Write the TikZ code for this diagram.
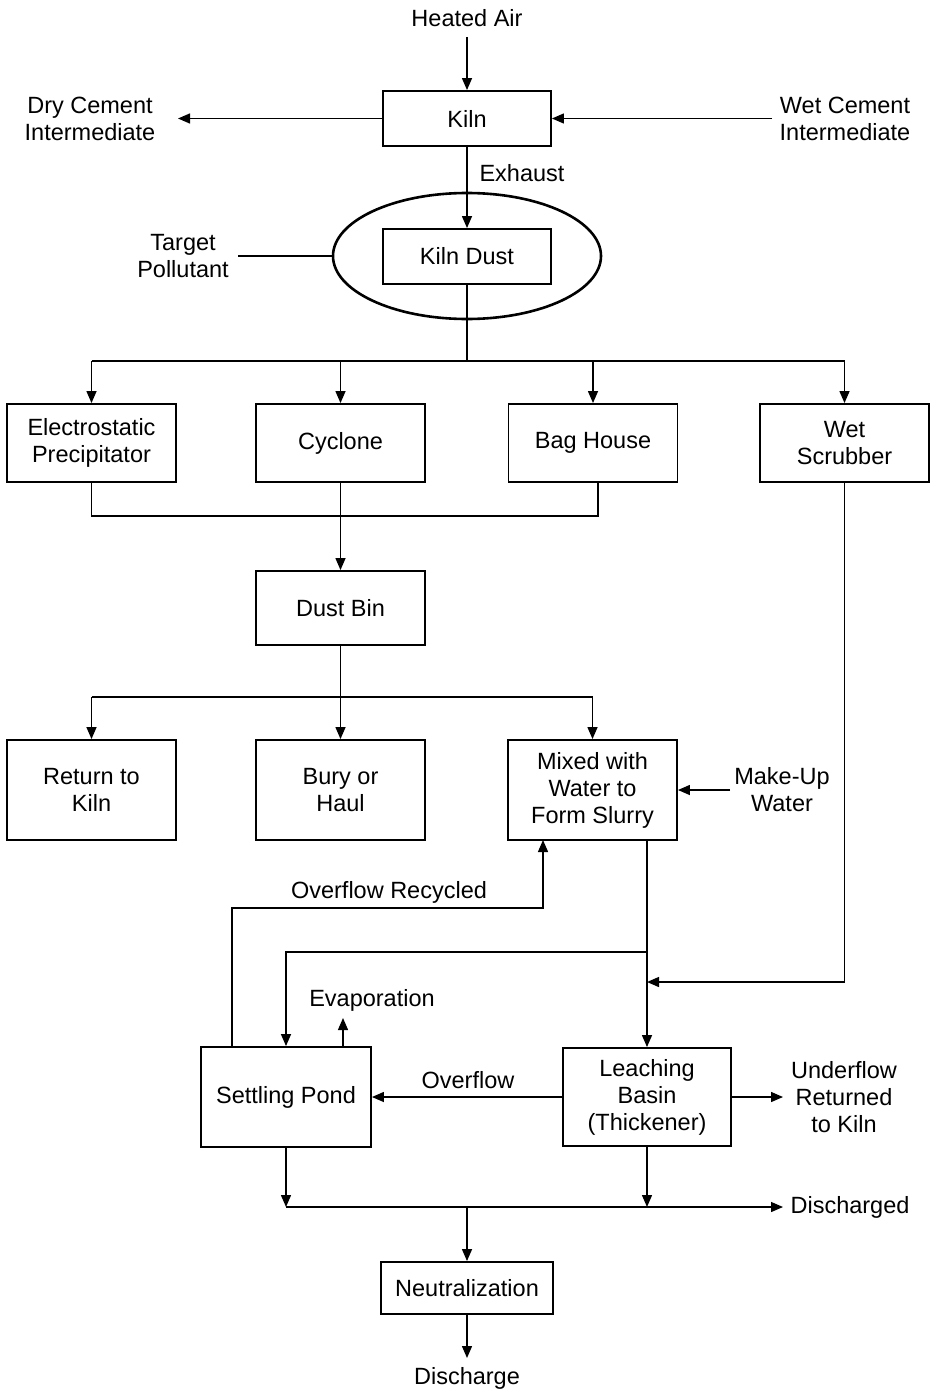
\documentclass[tikz,border=0pt]{standalone}
\usepackage{fontspec}
\setmainfont{Liberation Sans}
\usetikzlibrary{arrows.meta,shapes.geometric}
\begin{document}
\begin{tikzpicture}[x=1pt,y=-1pt,
  every node/.style={font=\fontsize{23.5}{27}\selectfont, align=center, inner sep=0pt},
  box/.style={draw, line width=1.9pt, minimum width=169pt, minimum height=78pt},
  conn/.style={line width=1.4pt},
  arr/.style={conn, -{Triangle[length=12pt,width=10pt]}}]
\useasboundingbox (0,0) rectangle (933,1394);
% boxes
\node[box, minimum width=168pt, minimum height=55pt] (kiln) at (467,118.5) {Kiln};
\node[box, minimum width=168pt, minimum height=55pt] (dust) at (467,256.5) {Kiln Dust};
\node[draw, ellipse, line width=2.6pt, minimum width=268pt, minimum height=126pt] (ell) at (467,256) {};
\node[box] (esp) at (91.5,443) {Electrostatic\\Precipitator};
\node[box] (cyc) at (340.5,443) {Cyclone};
\node[box] (bag) at (593,443) {Bag House};
\node[box] (wet) at (844.5,443) {Wet\\Scrubber};
\node[box, minimum height=74pt] (bin) at (340.5,608) {Dust Bin};
\node[box, minimum height=100pt] (ret) at (91.5,790) {Return to\\Kiln};
\node[box, minimum height=100pt] (bury) at (340.5,790) {Bury or\\Haul};
\node[box, minimum height=100pt] (mix) at (592.5,790) {Mixed with\\Water to\\Form Slurry};
\node[box, minimum width=170pt, minimum height=100pt] (pond) at (286,1097) {Settling Pond};
\node[box, minimum width=168pt, minimum height=98pt] (leach) at (647,1097) {Leaching\\Basin\\(Thickener)};
\node[box, minimum width=172pt, minimum height=52pt] (neut) at (467,1288) {Neutralization};
% text labels
\node (heated) at (467,18) {Heated Air};
\node (dry) at (90,119) {Dry Cement\\Intermediate};
\node (wetc) at (845,119) {Wet Cement\\Intermediate};
\node (exhaust) at (522,173) {Exhaust};
\node (target) at (183,256) {Target\\Pollutant};
\node (makeup) at (782,790) {Make-Up\\Water};
\node (overrec) at (389,892) {Overflow Recycled};
\node (evap) at (372,1000) {Evaporation};
\node (overflow) at (468,1080) {Overflow};
\node (underflow) at (844,1097) {Underflow\\Returned\\to Kiln};
\node (discharged) at (850,1207) {Discharged};
\node (discharge) at (467,1378) {Discharge};
% coordinates
\coordinate (heatedend) at (467,37);
\coordinate (dryend) at (178,118.5);
\coordinate (wetstart) at (772,118.5);
\coordinate (targetend) at (238,256);
\coordinate (bus1) at (467,361);
\coordinate (merge) at (598,516);
\coordinate (bagout) at (598,482);
\coordinate (bus2) at (340.5,697);
\coordinate (mkstart) at (730,790);
\coordinate (split) at (647,952);
\coordinate (join) at (647,982);
\coordinate (recA) at (232,1047);
\coordinate (recB) at (232,908);
\coordinate (recC) at (543,908);
\coordinate (recD) at (543,840);
\coordinate (evapA) at (343,1047);
\coordinate (evapB) at (343,1018);
\coordinate (ufend) at (783,1097);
\coordinate (bus3) at (467,1207);
\coordinate (dsend) at (783,1207);
\coordinate (dcend) at (467,1358);
% connectors
\draw[arr] (heatedend) -- (kiln.north);
\draw[arr] (kiln.west) -- (dryend);
\draw[arr] (wetstart) -- (kiln.east);
\draw[arr] (kiln.south) -- (dust.north);
\draw[conn] (targetend) -- (ell.west);
\draw[conn] (dust.south) -- (bus1);
\draw[conn] (esp.north |- bus1) -- (wet.north |- bus1);
\draw[arr] (esp.north |- bus1) -- (esp.north);
\draw[arr] (cyc.north |- bus1) -- (cyc.north);
\draw[arr] (bag.north |- bus1) -- (bag.north);
\draw[arr] (wet.north |- bus1) -- (wet.north);
\draw[conn] (esp.south) -- (esp.south |- merge) -- (merge) -- (bagout);
\draw[arr] (cyc.south) -- (bin.north);
\draw[conn] (bin.south) -- (bus2);
\draw[conn] (ret.north |- bus2) -- (mix.north |- bus2);
\draw[arr] (ret.north |- bus2) -- (ret.north);
\draw[arr] (bus2) -- (bury.north);
\draw[arr] (mix.north |- bus2) -- (mix.north);
\draw[arr] (mkstart) -- (mix.east);
\draw[arr] (leach.north |- mix.south) -- (leach.north);
\draw[arr] (split) -- (pond.north |- split) -- (pond.north);
\draw[arr] (wet.south) -- (wet.south |- join) -- (join);
\draw[arr] (recA) -- (recB) -- (recC) -- (recD);
\draw[arr] (evapA) -- (evapB);
\draw[arr] (leach.west) -- (pond.east);
\draw[arr] (leach.east) -- (ufend);
\draw[arr] (pond.south) -- (pond.south |- bus3);
\draw[arr] (leach.south) -- (leach.south |- bus3);
\draw[arr] (pond.south |- bus3) -- (dsend);
\draw[arr] (bus3) -- (neut.north);
\draw[arr] (neut.south) -- (dcend);
\end{tikzpicture}
\end{document}
